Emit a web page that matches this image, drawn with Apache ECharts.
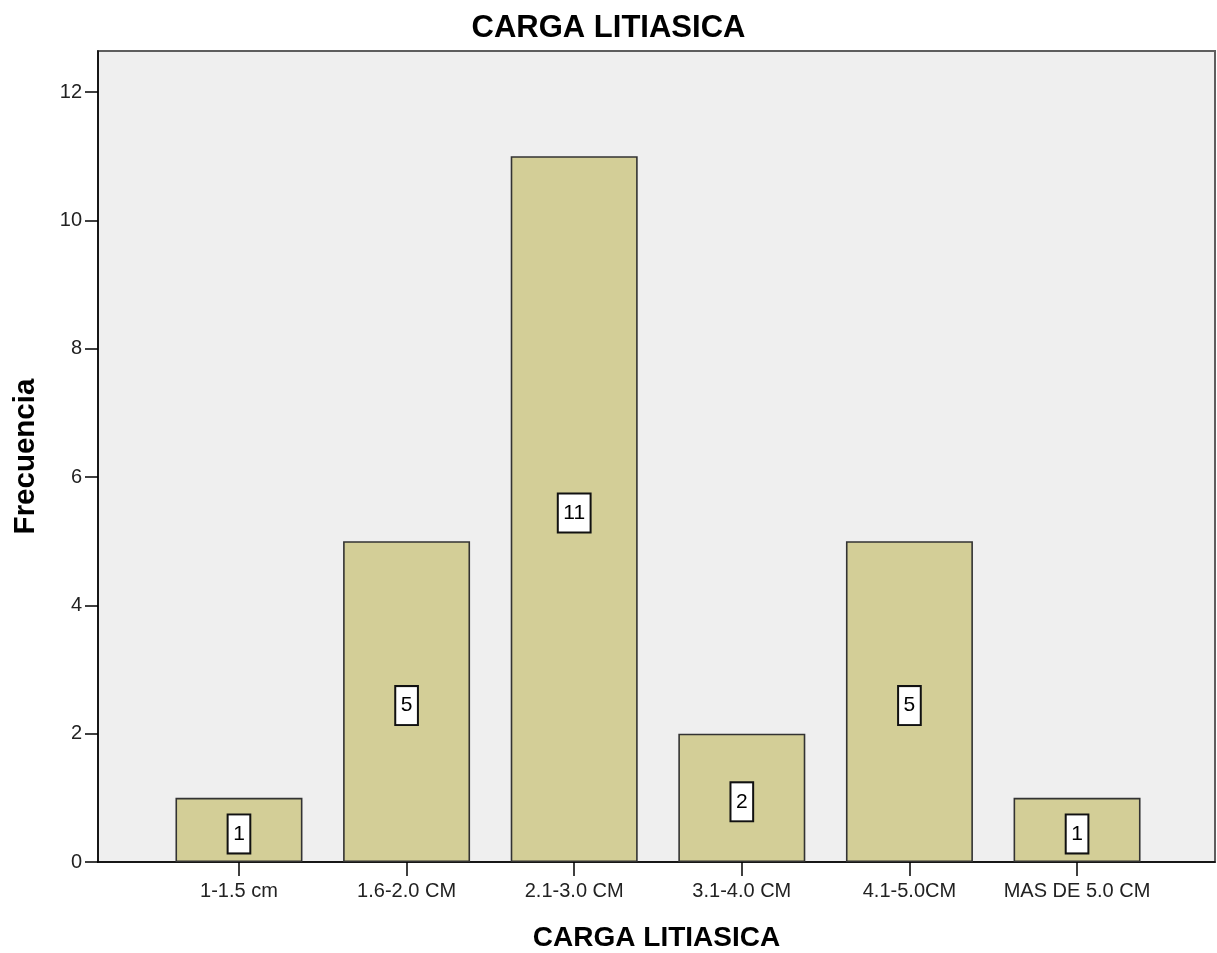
<!DOCTYPE html>
<html>
<head>
<meta charset="utf-8">
<title>CARGA LITIASICA</title>
<script src="https://cdn.jsdelivr.net/npm/echarts@6/dist/echarts.min.js"></script>
<style>
  html, body { margin: 0; padding: 0; background: #ffffff; }
  #chart { width: 1217px; height: 953px; }
</style>
</head>
<body>
<div id="chart"></div>
<script>
// Frequency of stone burden ranges
const categories = ['1-1.5 cm', '1.6-2.0 CM', '2.1-3.0 CM', '3.1-4.0 CM', '4.1-5.0CM', 'MAS DE 5.0 CM'];
const frequencies = [1, 5, 11, 2, 5, 1];
const yTicks = [0, 2, 4, 6, 8, 10, 12];

const FONT = 'Arial, "Liberation Sans", sans-serif';
const catIndex = categories.map((_, i) => i);

const chart = echarts.init(document.getElementById('chart'), null, { renderer: 'canvas' });

chart.setOption({
  backgroundColor: '#ffffff',
  animation: false,
  title: {
    text: 'CARGA LITIASICA',
    left: 'center',
    top: 13,
    padding: 0,
    textStyle: { fontFamily: FONT, fontSize: 31, fontWeight: 'bold', color: '#000' }
  },
  grid: {
    left: 98, right: 2, top: 51, bottom: 91,
    containLabel: false,
    outerBoundsMode: 'none',
    show: true,
    backgroundColor: '#efefef',
    borderColor: '#5e5e5e',
    borderWidth: 2
  },
  xAxis: {
    type: 'value',
    min: -0.841,
    max: 5.823,
    name: 'CARGA LITIASICA',
    nameLocation: 'middle',
    nameGap: 62,
    nameTextStyle: { fontFamily: FONT, fontSize: 28, fontWeight: 'bold', color: '#000' },
    splitLine: { show: false },
    axisLine: { show: true, onZero: false, lineStyle: { color: '#000', width: 1.5 } },
    axisTick: {
      show: true, length: 14, inside: false,
      customValues: catIndex,
      lineStyle: { color: '#000', width: 1.5 }
    },
    axisLabel: {
      customValues: catIndex,
      margin: 19,
      fontFamily: FONT, fontSize: 20, color: '#222',
      formatter: v => categories[Math.round(v)] || ''
    }
  },
  yAxis: {
    type: 'value',
    min: 0,
    max: 12.64,
    name: 'Frecuencia',
    nameLocation: 'middle',
    nameGap: 57,
    nameTextStyle: { fontFamily: FONT, fontSize: 29.5, fontWeight: 'bold', color: '#000' },
    splitLine: { show: false },
    axisLine: { show: true, onZero: false, lineStyle: { color: '#000', width: 1.5 } },
    axisTick: {
      show: true, length: 13, inside: false,
      customValues: yTicks,
      lineStyle: { color: '#000', width: 1.5 }
    },
    axisLabel: {
      customValues: yTicks,
      margin: 16,
      fontFamily: FONT, fontSize: 20, color: '#222'
    }
  },
  series: [{
    type: 'bar',
    data: frequencies.map((v, i) => [i, v]),
    barWidth: 127,
    itemStyle: { color: '#d3ce97', borderColor: '#333333', borderWidth: 1.6 },
    label: {
      show: true,
      position: 'inside',
      offset: [0, 4],
      formatter: p => String(p.value[1]),
      fontFamily: FONT, fontSize: 21, color: '#000',
      backgroundColor: '#ffffff',
      borderColor: '#111', borderWidth: 2,
      padding: [8, 4.5],
      lineHeight: 21
    }
  }]
});
</script>
</body>
</html>
